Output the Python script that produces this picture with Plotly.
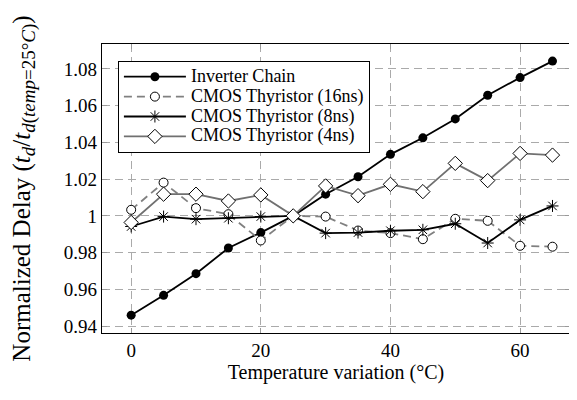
import plotly.graph_objects as go

temps = [0, 5, 10, 15, 20, 25, 30, 35, 40, 45, 50, 55, 60, 65]
inverter = [0.9459, 0.9567, 0.9685, 0.9825, 0.9909, 1.0, 1.0118, 1.0213, 1.0335, 1.0425, 1.0528, 1.0657, 1.0753, 1.0843]
cmos16 = [1.0033, 1.0181, 1.0042, 1.0009, 0.9866, 1.0, 0.9996, 0.9920, 0.9906, 0.9873, 0.9984, 0.9973, 0.9837, 0.9832]
cmos8 = [0.9942, 0.9996, 0.9982, 0.9987, 0.9996, 1.0, 0.9906, 0.9909, 0.9919, 0.9924, 0.9957, 0.9852, 0.9978, 1.0054]
cmos4 = [0.9964, 1.0118, 1.0118, 1.0081, 1.0114, 1.0, 1.0163, 1.0110, 1.0172, 1.0132, 1.0286, 1.0192, 1.0340, 1.0331]
names = ["Inverter Chain", "CMOS Thyristor (16ns)", "CMOS Thyristor (8ns)", "CMOS Thyristor (4ns)"]
xticks = [0, 20, 40, 60]
yticks = [0.94, 0.96, 0.98, 1.0, 1.02, 1.04, 1.06, 1.08]
yticklabels = ["0.94", "0.96", "0.98", "1", "1.02", "1.04", "1.06", "1.08"]

FONT = "Liberation Serif"
LEG = "<span style='font-size:18px'>%s</span>"
fig = go.Figure()
fig.add_trace(go.Scatter(x=temps, y=inverter, name=LEG % names[0], mode="lines+markers",
                         line=dict(color="black", width=1.8),
                         marker=dict(symbol="circle", size=9, color="black")))
fig.add_trace(go.Scatter(x=temps, y=cmos16, name=LEG % names[1], mode="lines+markers",
                         line=dict(color="#808080", width=1.8, dash="8px,5px"),
                         marker=dict(symbol="circle", size=9, color="white",
                                     line=dict(color="black", width=1))))
fig.add_trace(go.Scatter(x=temps, y=cmos8, name=LEG % names[2], mode="lines+markers",
                         line=dict(color="black", width=1.8),
                         marker=dict(symbol="asterisk-open", size=10, color="black",
                                     line=dict(color="black", width=1))))
fig.add_trace(go.Scatter(x=temps, y=cmos4, name=LEG % names[3], mode="lines+markers",
                         line=dict(color="#707070", width=1.8),
                         marker=dict(symbol="diamond", size=11, color="white",
                                     line=dict(color="black", width=1))))

axis_common = dict(showline=True, linecolor="black", linewidth=1.2, mirror="ticks",
                   ticks="inside", ticklen=5, tickcolor="#999999", tickwidth=1,
                   showgrid=True, gridcolor="#aaaaaa", gridwidth=1, griddash="8px,5px",
                   zeroline=False, tickfont=dict(family=FONT, size=19, color="black"))

ytitle = ("Normalized Delay (<i>t<sub><span style='font-size:19px'>d</span></sub></i>/"
          "<i>t</i><sub><span style='font-size:19px'><i>d</i>(<i>temp</i>=25°<i>C</i>)</span></sub>)")

fig.update_xaxes(range=[-4.5, 67.7], tickvals=xticks, ticktext=[str(v) for v in xticks],
                 title=dict(text="Temperature variation (°C)", font=dict(family=FONT, size=20, color="black"),
                            standoff=4),
                 **axis_common)
fig.update_yaxes(range=[0.9362, 1.0936], tickvals=yticks, ticktext=yticklabels,
                 title=dict(text=ytitle, font=dict(family=FONT, size=25, color="black"), standoff=30),
                 **axis_common)

fig.update_layout(
    width=569, height=392,
    margin=dict(l=94, r=7, t=36, b=67),
    paper_bgcolor="white", plot_bgcolor="white",
    font=dict(family=FONT, color="black"),
    legend=dict(x=0.034, y=0.942, xanchor="left", yanchor="top",
                bgcolor="white", bordercolor="black", borderwidth=1,
                font=dict(family=FONT, size=13, color="black"),
                itemwidth=62, tracegroupgap=0),
    showlegend=True,
)

fig.write_html("out.html")
